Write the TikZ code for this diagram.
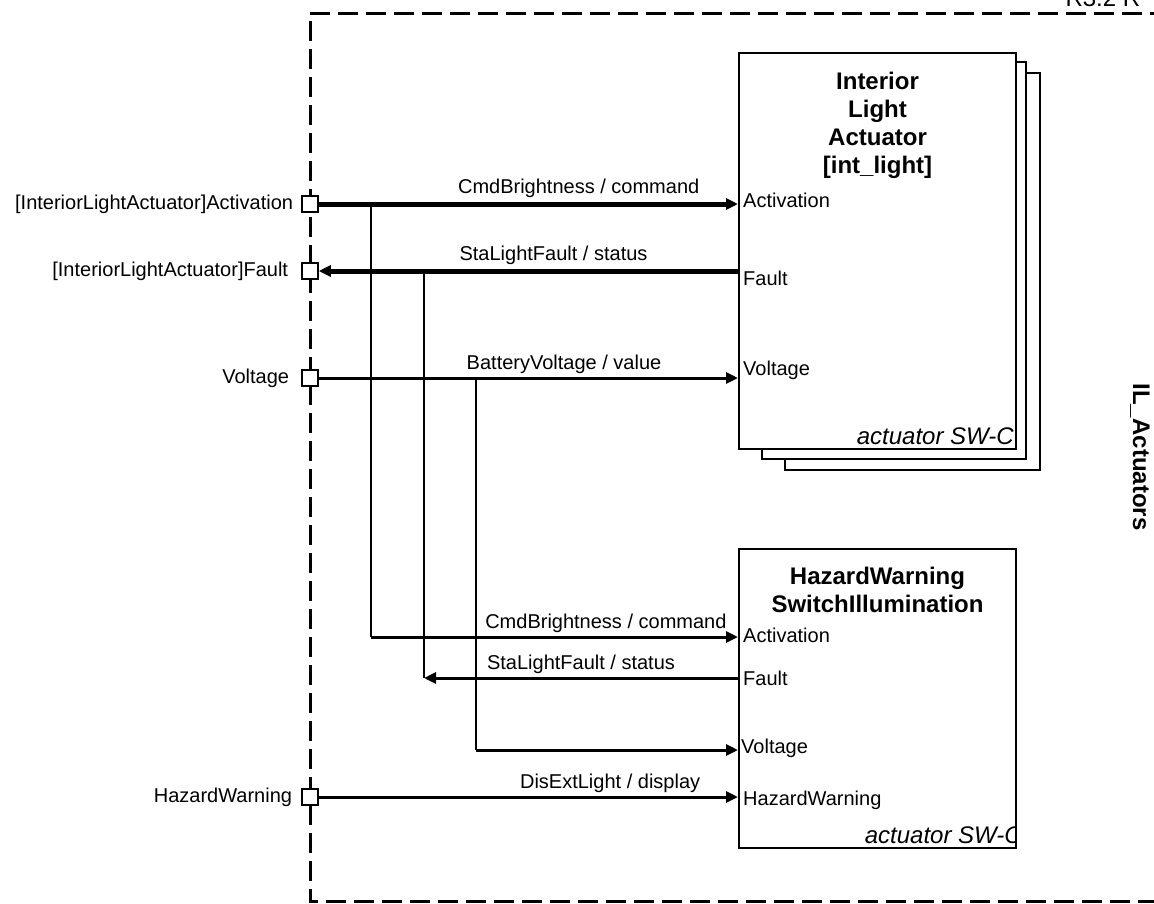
\documentclass[tikz,border=0pt]{standalone}
\usepackage{fontspec}
\setmainfont{Liberation Sans}
\usetikzlibrary{arrows.meta,positioning}

\tikzset{
  txt/.style={font=\fontsize{20}{24}\selectfont, inner sep=1pt},
  ttl/.style={font=\fontsize{24}{28}\selectfont\bfseries, align=center, inner sep=0pt},
  kind/.style={font=\fontsize{24}{28}\selectfont\itshape, inner sep=1pt},
  port/.style={draw, fill=white, line width=1.5pt, minimum size=16pt, inner sep=0pt},
  swc/.style={draw, fill=white, line width=2pt, anchor=north west, inner sep=0pt},
  sigthick/.style={line width=5pt},
  sig/.style={line width=3pt},
  branch/.style={line width=2pt},
  tip/.style={-{Stealth[length=12pt,width=11pt,inset=0pt]}}
}

\begin{document}
\begin{tikzpicture}[x=1pt, y=-1pt]
    \useasboundingbox (0,0) rectangle (1154,903);

    % COMPOSICION
    \draw[line width=3pt, dash pattern=on 20pt off 8pt] (1170,13) -- (310,13) -- (310,901) -- (1170,901);
    \node[anchor=base west, font=\fontsize{24}{28}\selectfont] (rev) at (1062,6) {R3.2 R};
    \node[rotate=-90, font=\fontsize{24}{28}\selectfont\bfseries] (compName) at (1140,457) {IL\_Actuators};

    % INTERIOR LIGHT ACTUATOR
    \draw[fill=white, line width=2pt] (785,73) rectangle (1040,470);
    \draw[fill=white, line width=2pt] (762,62) rectangle (1026,459);
    \node[swc, minimum width=277pt, minimum height=396pt] (ila) at (738,52) {};
    \node[ttl, below=20pt of ila.north] (ilaName) {Interior\\Light\\Actuator\\{}[int\_light]};
    \node[kind, anchor=south east] (ilaKind) at ([shift={(-2,-4)}]ila.south east) {actuator SW-C};

    % HAZARD WARNING SWITCH ILLUMINATION
    \node[swc, minimum width=277pt, minimum height=299pt] (hw) at (738,548) {};
    \node[ttl, below=19pt of hw.north] (hwName) {HazardWarning\\SwitchIllumination};
    \begin{scope}
      \clip (hw.north west) rectangle ([shift={(-1,0)}]hw.south east);
      \node[kind, anchor=south east] (hwKind) at ([shift={(6,-4)}]hw.south east) {actuator SW-C};
    \end{scope}

    % PUERTOS DE LA COMPOSICION
    \node[port] (pAct) at (310,204) {};
    \node[port] (pFlt) at (310,271) {};
    \node[port] (pVolt) at (310,378) {};
    \node[port] (pHaz) at (310,797) {};
    \node[txt, left=7pt of pAct] (lAct) {[InteriorLightActuator]Activation};
    \node[txt, left=12pt of pFlt] (lFlt) {[InteriorLightActuator]Fault};
    \node[txt, left=11pt of pVolt] (lVolt) {Voltage};
    \node[txt, left=8pt of pHaz] (lHaz) {HazardWarning};

    % PUERTOS DE LOS SW-C
    \coordinate (ilaAct) at (ila.west |- pAct);
    \coordinate (ilaFlt) at (ila.west |- pFlt);
    \coordinate (ilaVolt) at (ila.west |- pVolt);
    \coordinate (hwAct) at (738,637);
    \coordinate (hwFlt) at (738,678);
    \coordinate (hwVolt) at (738,750);
    \coordinate (hwHaz) at (hw.west |- pHaz);
    \node[txt, anchor=west] (tIlaAct) at ([shift={(4,-4)}]ilaAct) {Activation};
    \node[txt, anchor=west] (tIlaFlt) at ([shift={(4,7)}]ilaFlt) {Fault};
    \node[txt, anchor=west] (tIlaVolt) at ([shift={(4,-8)}]ilaVolt) {Voltage};
    \node[txt, anchor=west] (tHwAct) at ([shift={(4,-2)}]hwAct) {Activation};
    \node[txt, anchor=west] (tHwFlt) at ([shift={(4,0)}]hwFlt) {Fault};
    \node[txt, anchor=west] (tHwVolt) at ([shift={(2,-2)}]hwVolt) {Voltage};
    \node[txt, anchor=west] (tHwHaz) at ([shift={(4,3)}]hwHaz) {HazardWarning};

    % DERIVACIONES
    \coordinate (jAct) at (371,204);
    \coordinate (jFlt) at (424,271);
    \coordinate (jVolt) at (476,378);
    \draw[branch] (jAct) -- (jAct |- hwAct);
    \draw[branch] (jFlt) -- (jFlt |- hwFlt);
    \draw[branch] (jVolt) -- (jVolt |- hwVolt);

    % CONECTORES
    \draw[sigthick, tip] (pAct.east) -- (ilaAct) node[txt, pos=0.62, above=3pt]{CmdBrightness / command};
    \draw[sigthick, tip] (ilaFlt) -- (pFlt.east) node[txt, pos=0.44, above=3pt]{StaLightFault / status};
    \draw[sig, tip] (pVolt.east) -- (ilaVolt) node[txt, pos=0.585, above=2pt]{BatteryVoltage / value};
    \draw[sig, tip] (jAct |- hwAct) -- (hwAct) node[txt, pos=0.64, above=2pt]{CmdBrightness / command};
    \draw[sig, tip] (hwFlt) -- (jFlt |- hwFlt) node[txt, pos=0.5, above=2pt]{StaLightFault / status};
    \draw[sig, tip] (jVolt |- hwVolt) -- (hwVolt);
    \draw[sig, tip] (pHaz.east) -- (hwHaz) node[txt, pos=0.695, above=2pt]{DisExtLight / display};

\end{tikzpicture}
\end{document}
